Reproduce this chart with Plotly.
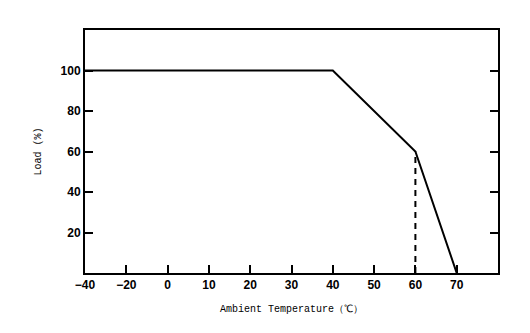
import numpy as np
import plotly.graph_objects as go

# Derating curve: ambient temperature (°C) vs. allowed load (%)
temp_points = [-40, 40, 60, 70]
load_points = [100, 100, 60, 0]

# Threshold marker where the steep derating starts
knee_temp = 60
knee_load = 60

# Axis ticks (evenly spaced slots on the temperature axis)
x_tick_temps = [-40, -20, 0, 10, 20, 30, 40, 50, 60, 70]
x_tick_labels = ["−40", "−20", "0", "10", "20", "30", "40", "50", "60", "70"]
y_tick_vals = [20, 40, 60, 80, 100]
y_tick_labels = ["20", "40", "60", "80", "100"]

slots = list(range(len(x_tick_temps)))


def to_slot(t):
    return np.interp(t, x_tick_temps, slots)


fig = go.Figure()

fig.add_trace(go.Scatter(
    x=to_slot(temp_points), y=load_points, mode="lines",
    line=dict(color="black", width=2), showlegend=False, hoverinfo="skip",
))
fig.add_trace(go.Scatter(
    x=to_slot([knee_temp, knee_temp]), y=[0, knee_load], mode="lines",
    line=dict(color="black", width=2, dash="6px,5px"), showlegend=False,
    hoverinfo="skip",
))

tick_font = dict(family="Liberation Sans", size=12, color="black", weight="bold")
title_font = dict(family="Liberation Mono", size=10, color="black")

fig.update_layout(
    width=530, height=333,
    margin=dict(l=85, r=32, t=30, b=60),
    paper_bgcolor="white", plot_bgcolor="white",
    xaxis=dict(
        range=[0, 10], tickvals=slots, ticktext=x_tick_labels,
        ticks="inside", ticklen=8, tickwidth=2, tickcolor="black",
        showline=True, linecolor="black", linewidth=2, mirror=True,
        showgrid=False, zeroline=False, tickfont=tick_font,
        title=dict(text="Ambient Temperature（℃）", font=title_font, standoff=14),
    ),
    yaxis=dict(
        range=[0, 120], tickvals=y_tick_vals, ticktext=y_tick_labels,
        ticks="inside", ticklen=8, tickwidth=2, tickcolor="black",
        showline=True, linecolor="black", linewidth=2, mirror="ticks",
        showgrid=False, zeroline=False, tickfont=tick_font,
        title=dict(text="Load (%)", font=title_font, standoff=17),
    ),
)

fig.write_html("out.html")
